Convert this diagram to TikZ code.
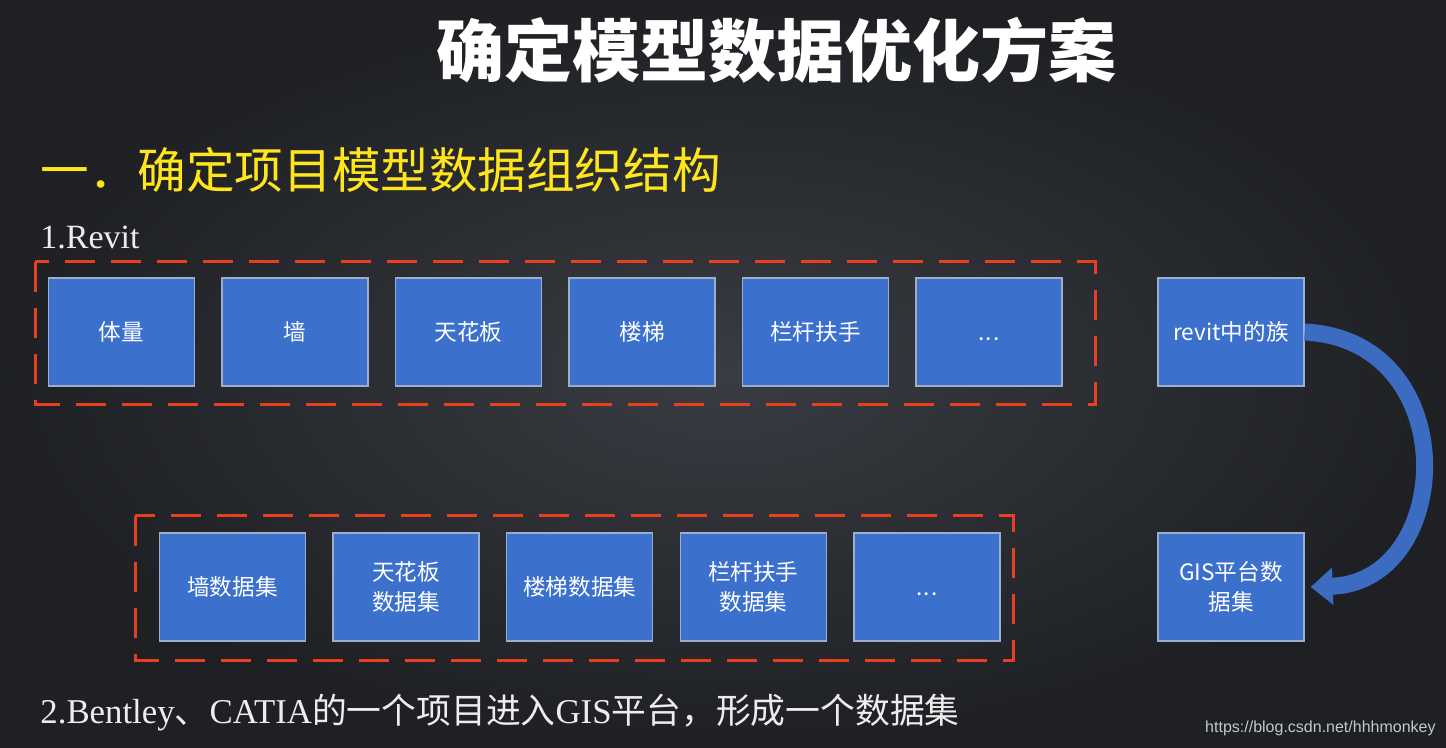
\documentclass[tikz,border=0pt]{standalone}
\usepackage{fontspec}
\setmainfont{Liberation Serif}
\newfontfamily\cjk{Noto Sans CJK SC}
\newfontfamily\webfont{Liberation Sans}
\usetikzlibrary{arrows.meta}
\definecolor{bgin}{HTML}{393C42}
\definecolor{bgout}{HTML}{1E2024}
\definecolor{boxfill}{HTML}{3B70CC}
\definecolor{boxline}{HTML}{9DAECB}
\definecolor{dashred}{HTML}{E8401E}
\definecolor{subyel}{HTML}{FFE51C}
\definecolor{arrblue}{HTML}{3C6CC2}
\definecolor{wmgray}{HTML}{C4C7CC}
\newcommand\lowdots{\vphantom{楼}.\kern0.5pt.\kern0.5pt.}

\tikzset{
  tbox/.style={draw=boxline, line width=0.7pt, fill=boxfill, minimum width=73pt,
    minimum height=54pt, inner sep=0pt, text=white, align=center,
    font=\cjk\fontsize{11.3}{15}\selectfont},
  groupframe/.style={draw=dashred, line width=1.5pt, dash pattern=on 15pt off 8pt},
  famarrow/.style={draw=arrblue, line width=8.5pt, -{Triangle[width=18pt,length=11pt]}}
}

\begin{document}
\begin{tikzpicture}[x=0.5pt,y=-0.5pt]
  % background
  \useasboundingbox (0,0) rectangle (1446,748);
  \shade[inner color=bgin, outer color=bgout] (0,0) rectangle (1446,748);

  % headings
  \node[text=white, font=\cjk\bfseries\fontsize{34}{40}\selectfont] (title) at (776,50) {确定模型数据优化方案};
  \node[anchor=west, inner sep=0pt, text=subyel, font=\cjk\fontsize{24.3}{28}\selectfont] (sub) at (40,170) {一．确定项目模型数据组织结构};
  \node[anchor=west, inner sep=0pt, text=white!93!black, font=\fontsize{17}{20}\selectfont] (revit) at (40,237) {1.Revit};

  % revit row
  \draw[groupframe] (35,262) rectangle (1095,405);
  \foreach \lbl [count=\i] in {体量,墙,天花板,楼梯,栏杆扶手,\lowdots} {
    \node[tbox] (r\i) at ({121.5+173.5*(\i-1)},332) {\lbl};
  }

  % dataset row
  \draw[groupframe] (135,516) rectangle (1013,660);
  \foreach \lbl [count=\i] in {墙数据集,{天花板\\数据集},楼梯数据集,{栏杆扶手\\数据集},\lowdots} {
    \node[tbox] (d\i) at ({232.5+173.6*(\i-1)},587) {\lbl};
  }

  % family -> GIS
  \node[tbox] (fam) at (1231,332) {revit中的族};
  \node[tbox] (gis) at (1231,587) {GIS平台数\\据集};
  \draw[famarrow] (fam.east) .. controls (1465,340) and (1455,582) .. ([xshift=3pt]gis.east);

  \node[anchor=west, inner sep=0pt, text=white!93!black, font=\fontsize{17.4}{20}\selectfont] (bentley) at (40,713)
    {2.Bentley{\cjk 、}CATIA{\cjk 的一个项目进入}GIS{\cjk 平台，形成一个数据集}};
  \node[anchor=east, inner sep=0pt, text=wmgray, font=\webfont\fontsize{8}{10}\selectfont] (url) at (1436,728) {https://blog.csdn.net/hhhmonkey};
\end{tikzpicture}
\end{document}
